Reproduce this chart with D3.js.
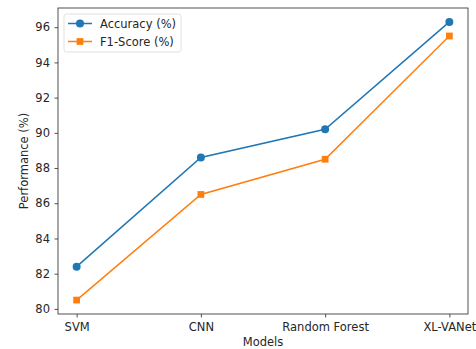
<!DOCTYPE html>
<html lang="en">
<head>
<meta charset="UTF-8">
<title>Model performance</title>
<style>
  body { margin: 0; background: #fff; }
  text { font-family: "DejaVu Sans", sans-serif; fill: #262626; }
</style>
</head>
<body>
<script src="https://d3js.org/d3.v7.min.js"></script>
<script>
const models = ["SVM", "CNN", "Random Forest", "XL-VANet"];
const accuracy = [82.4, 88.6, 90.2, 96.3];
const f1Score = [80.5, 86.5, 88.5, 95.5];
const yTicks = [80, 82, 84, 86, 88, 90, 92, 94, 96];

const W = 476, H = 349;
const m = { t: 8, r: 8, b: 35, l: 58 };
const fs = "11.5px";

const svg = d3.select("body").append("svg")
  .attr("width", W).attr("height", H);

const x = d3.scaleLinear().domain([-0.15, 3.15]).range([m.l, W - m.r]);
const y = d3.scaleLinear().domain([79.71, 97.09]).range([H - m.b, m.t]);

// axes
const xAxis = svg.append("g")
  .attr("transform", `translate(0,${H - m.b})`)
  .call(d3.axisBottom(x).tickValues(d3.range(models.length)).tickFormat(i => models[i])
    .tickSize(3.5).tickPadding(5.5));
const yAxis = svg.append("g")
  .attr("transform", `translate(${m.l},0)`)
  .call(d3.axisLeft(y).tickValues(yTicks).tickSize(3.5).tickPadding(4.5));
[xAxis, yAxis].forEach(g => {
  g.select(".domain").remove();
  g.selectAll("line").attr("stroke", "#262626").attr("stroke-width", 0.8);
  g.selectAll("text").style("font-size", fs).style("font-family", "DejaVu Sans").attr("fill", "#262626");
});

svg.append("rect")
  .attr("x", m.l).attr("y", m.t)
  .attr("width", W - m.l - m.r).attr("height", H - m.t - m.b)
  .attr("fill", "none").attr("stroke", "#262626").attr("stroke-width", 0.8);

// labels
svg.append("text").attr("x", (m.l + W - m.r) / 2).attr("y", H - 3)
  .attr("text-anchor", "middle").style("font-size", fs).text("Models");
svg.append("text")
  .attr("transform", `translate(28,${(m.t + H - m.b) / 2}) rotate(-90)`)
  .attr("text-anchor", "middle").style("font-size", fs).text("Performance (%)");

// series
const series = [
  { name: "Accuracy (%)", values: accuracy, color: "#1f77b4", marker: "circle" },
  { name: "F1-Score (%)", values: f1Score, color: "#ff7f0e", marker: "square" }
];
const line = d3.line().x((d, i) => x(i)).y(d => y(d));

series.forEach(s => {
  svg.append("path").datum(s.values)
    .attr("d", line).attr("fill", "none")
    .attr("stroke", s.color).attr("stroke-width", 1.5);
  const sym = d3.symbol().type(s.marker === "circle" ? d3.symbolCircle : d3.symbolSquare)
    .size(s.marker === "circle" ? 50 : 46);
  svg.selectAll(null).data(s.values).enter().append("path")
    .attr("d", sym)
    .attr("transform", (d, i) => `translate(${x(i)},${y(d)})`)
    .attr("fill", s.color);
});

// legend
const lg = svg.append("g").attr("transform", `translate(${m.l + 6},${m.t + 6})`);
lg.append("rect").attr("width", 117).attr("height", 38).attr("rx", 2.5)
  .attr("fill", "#fff").attr("fill-opacity", 0.8).attr("stroke", "#d9d9d9").attr("stroke-width", 0.8);
series.forEach((s, i) => {
  const cy = 9.5 + i * 18;
  lg.append("line").attr("x1", 4).attr("x2", 28).attr("y1", cy).attr("y2", cy)
    .attr("stroke", s.color).attr("stroke-width", 1.5);
  const sym = d3.symbol().type(s.marker === "circle" ? d3.symbolCircle : d3.symbolSquare)
    .size(s.marker === "circle" ? 50 : 46);
  lg.append("path").attr("d", sym).attr("transform", `translate(16,${cy})`).attr("fill", s.color);
  lg.append("text").attr("x", 36).attr("y", cy + 4).style("font-size", fs).text(s.name);
});
</script>
</body>
</html>
